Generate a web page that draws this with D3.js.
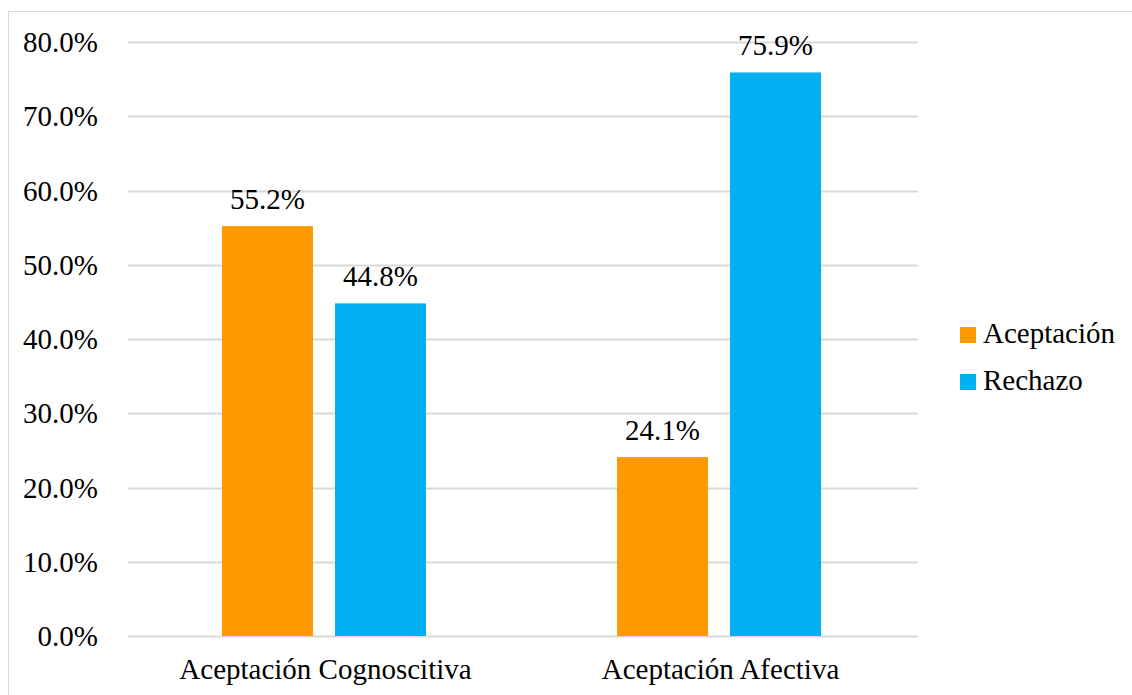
<!DOCTYPE html>
<html>
<head>
<meta charset="utf-8">
<script src="https://cdn.jsdelivr.net/npm/d3@7"></script>
<style>
  body { margin: 0; background: #fff; }
  svg { display: block; font-family: "Liberation Serif", "Times New Roman", serif; }
</style>
</head>
<body>
<div id="chart"></div>
<script>
const categories = ['Aceptación Cognoscitiva', 'Aceptación Afectiva'];
const seriesNames = ['Aceptación', 'Rechazo'];
const aceptacion = [55.2, 24.1];
const rechazo = [44.8, 75.9];
const yTicks = [0, 10, 20, 30, 40, 50, 60, 70, 80];

const width = 1132, height = 695;
const margin = { top: 42, right: 214, bottom: 59, left: 128 };
const colors = ['#FF9900', '#00B0F0'];
const fontSize = '29px';

const svg = d3.select('#chart').append('svg')
    .attr('width', width)
    .attr('height', height);

// outer frame
svg.append('rect')
    .attr('x', 8.5).attr('y', 11.5)
    .attr('width', width).attr('height', height)
    .attr('fill', 'none')
    .attr('stroke', '#d9d9d9');

const x = d3.scaleBand()
    .domain(categories)
    .range([margin.left, width - margin.right]);

const x1 = d3.scaleBand()
    .domain(seriesNames)
    .range([94, 298])
    .paddingInner(0.195);

const y = d3.scaleLinear()
    .domain([0, 80])
    .range([height - margin.bottom, margin.top]);

// gridlines
svg.append('g')
    .selectAll('line')
    .data(yTicks)
    .join('line')
    .attr('x1', margin.left)
    .attr('x2', width - margin.right)
    .attr('y1', d => Math.round(y(d)) + 0.5)
    .attr('y2', d => Math.round(y(d)) + 0.5)
    .attr('stroke', '#d9d9d9')
    .attr('stroke-width', 2);

// y labels
svg.append('g')
    .selectAll('text')
    .data(yTicks)
    .join('text')
    .attr('x', 98)
    .attr('y', d => y(d))
    .attr('dy', '0.35em')
    .attr('text-anchor', 'end')
    .style('font-size', fontSize)
    .text(d => d.toFixed(1) + '%');

const rows = categories.map((c, i) => ({ cat: c, values: [aceptacion[i], rechazo[i]] }));

const groups = svg.append('g')
    .selectAll('g')
    .data(rows)
    .join('g')
    .attr('transform', d => `translate(${x(d.cat)},0)`);

groups.selectAll('rect')
    .data(d => d.values.map((v, j) => ({ name: seriesNames[j], value: v, j })))
    .join('rect')
    .attr('x', d => x1(d.name))
    .attr('y', d => y(d.value))
    .attr('width', x1.bandwidth())
    .attr('height', d => y(0) - y(d.value))
    .attr('fill', d => colors[d.j]);

groups.selectAll('text')
    .data(d => d.values.map((v, j) => ({ name: seriesNames[j], value: v })))
    .join('text')
    .attr('x', d => x1(d.name) + x1.bandwidth() / 2)
    .attr('y', d => y(d.value) - 17)
    .attr('text-anchor', 'middle')
    .style('font-size', fontSize)
    .text(d => d.value.toFixed(1) + '%');

// category labels
svg.append('g')
    .selectAll('text')
    .data(categories)
    .join('text')
    .attr('x', d => x(d) + x.bandwidth() / 2)
    .attr('y', 679)
    .attr('text-anchor', 'middle')
    .style('font-size', fontSize)
    .text(d => d);

// legend
const legend = svg.append('g')
    .selectAll('g')
    .data(seriesNames)
    .join('g')
    .attr('transform', (d, i) => `translate(960, ${327 + i * 47})`);

legend.append('rect')
    .attr('width', 16)
    .attr('height', 16)
    .attr('fill', (d, i) => colors[i]);

legend.append('text')
    .attr('x', 23)
    .attr('y', 16)
    .style('font-size', fontSize)
    .text(d => d);
</script>
</body>
</html>
